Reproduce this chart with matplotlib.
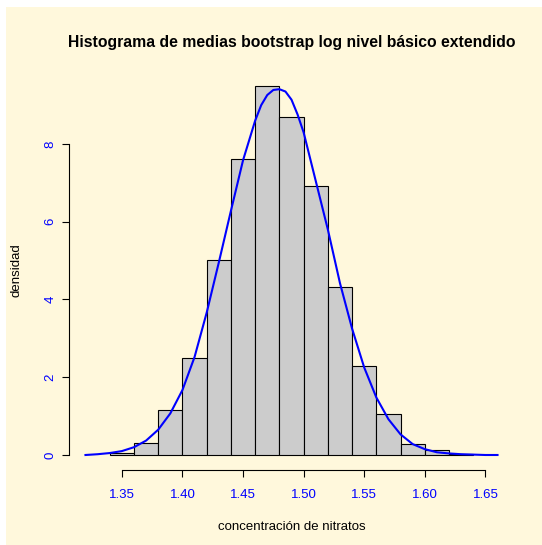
import numpy as np
import matplotlib
matplotlib.use("Agg")
import matplotlib.pyplot as plt
from matplotlib.patches import Rectangle

# histogram: bin edges and densities
bin_edges = [1.34, 1.36, 1.38, 1.40, 1.42, 1.44, 1.46, 1.48,
             1.50, 1.52, 1.54, 1.56, 1.58, 1.60, 1.62, 1.64]
bin_density = [0.06, 0.31, 1.17, 2.50, 5.02, 7.61, 9.49,
               8.70, 6.92, 4.33, 2.30, 1.05, 0.28, 0.12, 0.02]

# kernel density curve drawn on top
curve_x = [1.320, 1.330, 1.340, 1.350, 1.360, 1.370, 1.380, 1.390, 1.400,
           1.410, 1.420, 1.430, 1.440, 1.450, 1.460, 1.465, 1.470, 1.475,
           1.480, 1.485, 1.490, 1.495, 1.500, 1.510, 1.520, 1.530, 1.540,
           1.550, 1.560, 1.570, 1.580, 1.590, 1.600, 1.610, 1.620, 1.630,
           1.640, 1.650, 1.660]
curve_y = [0.00, 0.02, 0.05, 0.10, 0.20, 0.37, 0.65, 1.07, 1.67,
           2.52, 3.66, 4.95, 6.28, 7.58, 8.60, 9.00, 9.26, 9.39,
           9.41, 9.35, 9.14, 8.76, 8.30, 7.05, 5.80, 4.42, 3.25,
           2.25, 1.48, 0.92, 0.53, 0.28, 0.15, 0.07, 0.04, 0.02,
           0.01, 0.00, 0.00]

x_ticks = [1.35, 1.40, 1.45, 1.50, 1.55, 1.60, 1.65]
y_ticks = [0, 2, 4, 6, 8]

title = "Histograma de medias bootstrap log nivel básico extendido"
xlab = "concentración de nitratos"
ylab = "densidad"

plt.rcParams["font.family"] = ["Liberation Sans", "DejaVu Sans"]

W, H = 542, 545
fig = plt.figure(figsize=(W / 100, H / 100), dpi=100, facecolor="#FFF8DC")
# thin white strips on the left and top, as in the reference
fig.patches.append(Rectangle((0, 0), 6 / W, 1, transform=fig.transFigure,
                             facecolor="white", edgecolor="none", zorder=-10))
fig.patches.append(Rectangle((0, 1 - 7 / H), 1, 7 / H, transform=fig.transFigure,
                             facecolor="white", edgecolor="none", zorder=-10))

left, right, top, bottom = 69, 514, 71, 470
ax = fig.add_axes([left / W, 1 - bottom / H, (right - left) / W, (bottom - top) / H])
ax.set_facecolor("none")
ax.set_zorder(5)

edges = np.array(bin_edges)
ax.bar(edges[:-1], bin_density, width=np.diff(edges), align="edge",
       color="#CCCCCC", edgecolor="black", linewidth=0.8)
ax.plot(curve_x, curve_y, color="blue", linewidth=1.5, clip_on=False)

ax.set_xlim(1.3064, 1.6736)
ax.set_ylim(-0.386, 9.878)

for s in ["top", "right"]:
    ax.spines[s].set_visible(False)
ax.spines["bottom"].set_bounds(x_ticks[0], x_ticks[-1])
ax.spines["left"].set_bounds(y_ticks[0], y_ticks[-1])
for s in ["bottom", "left"]:
    ax.spines[s].set_linewidth(0.8)

ax.set_xticks(x_ticks)
ax.set_xticklabels([f"{t:.2f}" for t in x_ticks])
ax.set_yticks(y_ticks)
ax.set_yticklabels([str(t) for t in y_ticks], rotation=90, va="center")
ax.tick_params(axis="both", length=5, width=0.8, labelsize=9.5, labelcolor="blue")
ax.tick_params(axis="x", pad=9)
ax.tick_params(axis="y", pad=4)

cx = (left + right) / 2 / W
fig.text(cx, 1 - 42 / H, title, ha="center", va="center",
         fontsize=11.3, fontweight="bold")
fig.text(cx, 1 - 527 / H, xlab, ha="center", va="center", fontsize=9.5)
fig.text(17 / W, 1 - (top + bottom) / 2 / H, ylab, ha="center", va="center",
         rotation=90, fontsize=9.5)

fig.savefig("out.png", dpi=100, facecolor=fig.get_facecolor())
